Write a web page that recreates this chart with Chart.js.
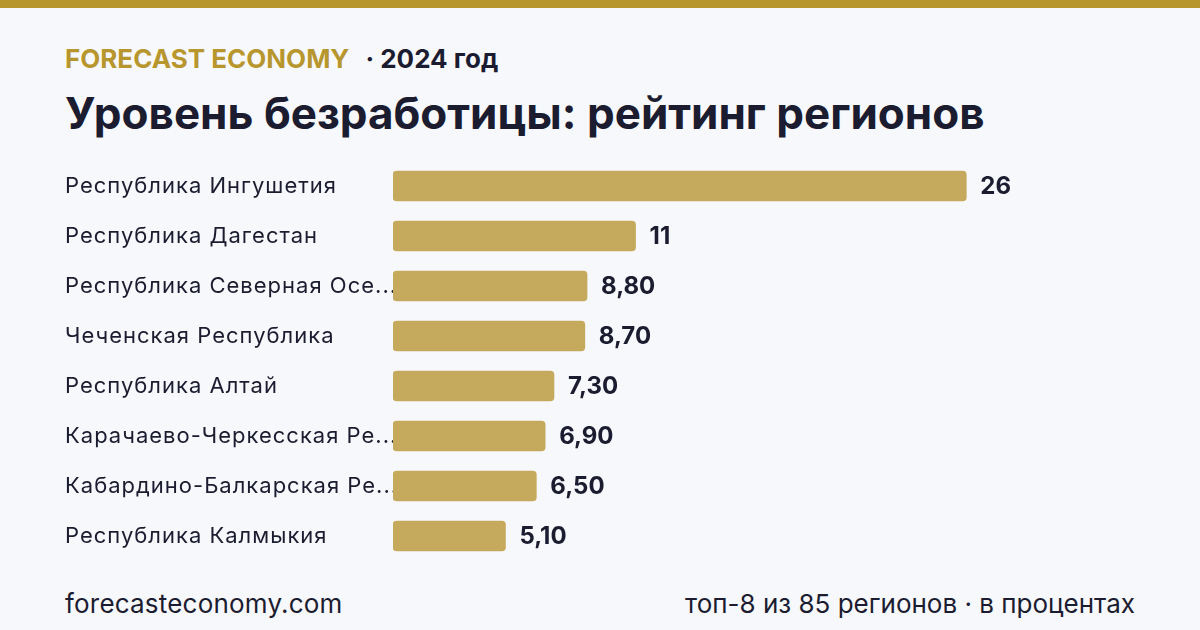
<!DOCTYPE html>
<html lang="ru">
<head>
<meta charset="utf-8">
<script src="https://cdn.jsdelivr.net/npm/chart.js@4"></script>
<style>
  html, body { margin: 0; padding: 0; }
  body {
    width: 1200px; height: 630px; overflow: hidden; position: relative;
    background: #f7f8fc; font-family: Inter, "Noto Sans", sans-serif; color: #1c1c30;
  }
  .topbar { position: absolute; left: 0; top: 0; width: 1200px; height: 8px; background: #b8962e; }
  .kicker { position: absolute; left: 65px; top: 46px; font-size: 26px; line-height: 26px; font-weight: 700; white-space: nowrap; }
  .kicker .brand { color: #b8962e; }
  .kicker .year { margin-left: 16px; }
  h1 { position: absolute; left: 65px; top: 91px; margin: 0; font-size: 44px; line-height: 44px; font-weight: 700; white-space: nowrap; }
  .chart-box { position: absolute; left: 65px; top: 161px; width: 1070px; height: 400px; }
  .foot { position: absolute; top: 591px; font-size: 26px; line-height: 26px; white-space: nowrap; }
  .foot.left { left: 65px; letter-spacing: 0.2px; }
  .foot.right { right: 65px; }
</style>
</head>
<body>
<div class="topbar"></div>
<div class="kicker"><span class="brand">FORECAST ECONOMY</span><span class="year">· 2024 год</span></div>
<h1>Уровень безработицы: рейтинг регионов</h1>
<div class="chart-box"><canvas id="myChart"></canvas></div>
<div class="foot left">forecasteconomy.com</div>
<div class="foot right">топ-8 из 85 регионов · в процентах</div>

<script>
// regions, top-8 by unemployment rate, %
const regions = [
    'Республика Ингушетия',
    'Республика Дагестан',
    'Республика Северная Осетия — Алания',
    'Чеченская Республика',
    'Республика Алтай',
    'Карачаево-Черкесская Республика',
    'Кабардино-Балкарская Республика',
    'Республика Калмыкия'
];
const rates = [26, 11, 8.8, 8.7, 7.3, 6.9, 6.5, 5.1];

const fontFamily = 'Inter, "Noto Sans", sans-serif';
const labelFont = '22px ' + fontFamily;
const valueFont = 'bold 24px ' + fontFamily;
const labelSpacing = '1px';
const textColor = '#1c1c30';
const maxLabelWidth = 335;

// shorten long names with an ellipsis so they fit in the label column
const measureCtx = document.createElement('canvas').getContext('2d');
function fitLabel(text) {
    measureCtx.font = labelFont;
    measureCtx.letterSpacing = labelSpacing;
    if (measureCtx.measureText(text).width <= maxLabelWidth) return text;
    let s = text;
    while (s.length > 1 && measureCtx.measureText(s + '...').width > maxLabelWidth) {
        s = s.slice(0, -1);
    }
    return s.trimEnd() + '...';
}

function formatValue(v) {
    return Number.isInteger(v) ? String(v) : v.toFixed(2).replace('.', ',');
}

// a bit of tracking for the category labels, and the value after each bar
const valueLabels = {
    id: 'valueLabels',
    beforeDraw(chart) {
        chart.ctx.letterSpacing = labelSpacing;
    },
    afterDatasetsDraw(chart) {
        const ctx = chart.ctx;
        const meta = chart.getDatasetMeta(0);
        ctx.save();
        ctx.letterSpacing = '0px';
        ctx.font = valueFont;
        ctx.fillStyle = textColor;
        ctx.textAlign = 'left';
        ctx.textBaseline = 'middle';
        meta.data.forEach((bar, i) => {
            ctx.fillText(formatValue(rates[i]), bar.x + 14, bar.y + 1);
        });
        ctx.restore();
    },
    afterDraw(chart) {
        chart.ctx.letterSpacing = '0px';
    }
};

async function createChart() {
    await document.fonts.load(labelFont);
    await document.fonts.load(valueFont);
    const ctx = document.getElementById('myChart');
    new Chart(ctx, {
        type: 'bar',
        data: {
            labels: regions,
            datasets: [{
                data: rates,
                backgroundColor: '#c5a95c',
                borderRadius: 4,
                borderSkipped: false,
                barThickness: 30
            }]
        },
        options: {
            indexAxis: 'y',
            responsive: true,
            maintainAspectRatio: false,
            animation: false,
            layout: { padding: 0 },
            scales: {
                x: {
                    display: false,
                    min: 0,
                    max: 33.65
                },
                y: {
                    grid: { display: false },
                    border: { display: false },
                    afterFit(scale) {
                        scale.width = 328;
                        scale.paddingTop = 0;
                        scale.paddingBottom = 0;
                    },
                    ticks: {
                        crossAlign: 'far',
                        padding: 0,
                        color: textColor,
                        font: { family: fontFamily, size: 22 },
                        callback: function(val) {
                            return fitLabel(this.getLabelForValue(val));
                        }
                    }
                }
            },
            plugins: {
                legend: { display: false },
                tooltip: { enabled: false }
            }
        },
        plugins: [valueLabels]
    });
}

createChart();
</script>
</body>
</html>
